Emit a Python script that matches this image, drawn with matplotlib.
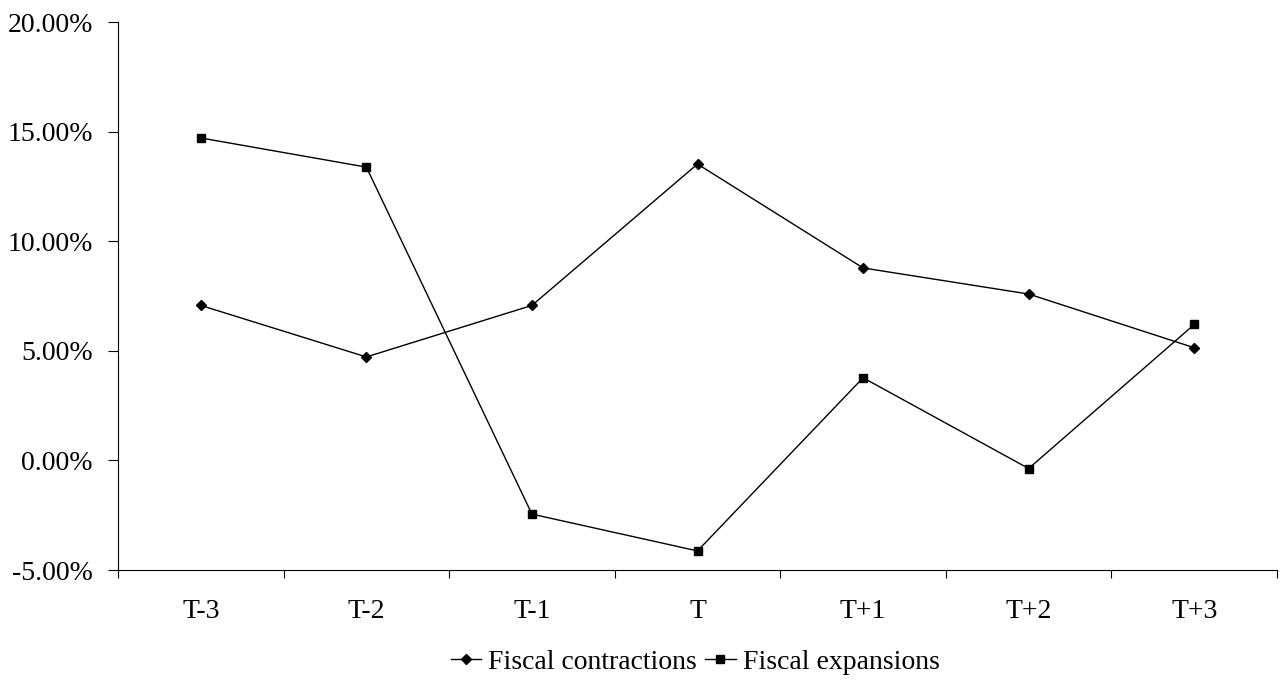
import matplotlib
matplotlib.use("Agg")
import matplotlib.pyplot as plt
from matplotlib.ticker import FuncFormatter, FixedLocator

# Data (percent)
periods = ["T-3", "T-2", "T-1", "T", "T+1", "T+2", "T+3"]
contractions = [7.07, 4.72, 7.07, 13.52, 8.78, 7.59, 5.14]
expansions = [14.71, 13.38, -2.45, -4.13, 3.77, -0.37, 6.20]
y_ticks = [-5, 0, 5, 10, 15, 20]

plt.rcParams['font.family'] = ['Liberation Serif', 'DejaVu Serif']

fig = plt.figure(figsize=(12.8, 6.82), dpi=100)
ax = fig.add_axes([118 / 1280, 1 - 570 / 682, (1277 - 118) / 1280, (570 - 22) / 682])

x = list(range(len(periods)))
ax.plot(x, contractions, color='black', lw=1.0, marker='D', markersize=5,
        label='Fiscal contractions')
ax.plot(x, expansions, color='black', lw=1.0, marker='s', markersize=5.5,
        label='Fiscal expansions')

ax.set_xlim(-0.5, len(periods) - 0.5)
ax.set_ylim(-5, 20)
ax.set_yticks(y_ticks)
ax.yaxis.set_major_formatter(FuncFormatter(lambda v, p: f"{v:.2f}%"))

# category labels centred, ticks at category boundaries
ax.set_xticks(x)
ax.set_xticklabels(periods)
ax.tick_params(axis='x', which='major', length=0, pad=21)
ax.xaxis.set_minor_locator(FixedLocator([i - 0.5 for i in range(len(periods) + 1)]))
ax.tick_params(axis='x', which='minor', length=6, width=0.8, direction='out')
ax.tick_params(axis='y', length=7, width=0.8, direction='out', pad=11)
ax.tick_params(labelsize=20)

for s in ['top', 'right']:
    ax.spines[s].set_visible(False)
for s in ['left', 'bottom']:
    ax.spines[s].set_linewidth(0.8)

fig.legend(loc='center', bbox_to_anchor=(695 / 1280, 1 - 662 / 682), ncol=2,
           frameon=False, fontsize=20, handlelength=1.1, handletextpad=0.25,
           columnspacing=0.3, borderaxespad=0, borderpad=0)

fig.savefig('out.png', dpi=100)
